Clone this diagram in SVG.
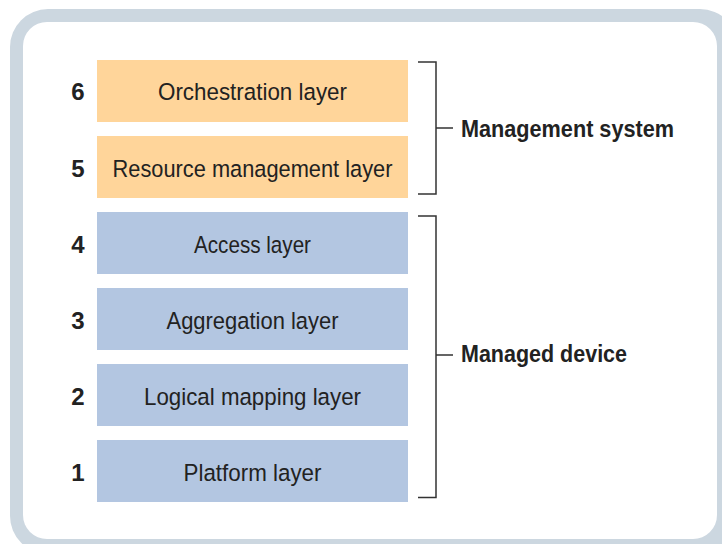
<svg xmlns="http://www.w3.org/2000/svg" width="722" height="544" viewBox="0 0 722 544">
  <style>
    .frame-outer { fill: #CCD7E0; }
    .frame-inner { fill: #FFFFFF; }
    .mgmt { fill: #FFD59A; }
    .dev { fill: #B3C6E1; }
    .label { font-family: "Liberation Sans", Arial, sans-serif; font-size: 24.5px; fill: #222222; text-anchor: middle; }
    .num { font-family: "Liberation Sans", Arial, sans-serif; font-size: 24px; font-weight: bold; fill: #222222; text-anchor: middle; }
    .group-label { font-family: "Liberation Sans", Arial, sans-serif; font-size: 24.5px; font-weight: bold; fill: #222222; }
    .bracket { fill: none; stroke: #333333; stroke-width: 1.5; }
  </style>

  <!-- rounded frame -->
  <rect class="frame-outer" x="10" y="9" width="728" height="545" rx="38"/>
  <rect class="frame-inner" x="23" y="22" width="694" height="517" rx="24"/>

  <!-- layer stack -->
  <g id="layer6">
    <rect class="mgmt" x="97" y="60" width="311" height="62"/>
    <text class="num" x="78" y="100">6</text>
    <text class="label" x="252.5" y="100" textLength="189" lengthAdjust="spacingAndGlyphs">Orchestration layer</text>
  </g>
  <g id="layer5">
    <rect class="mgmt" x="97" y="136" width="311" height="62"/>
    <text class="num" x="78" y="177">5</text>
    <text class="label" x="252.5" y="177" textLength="280" lengthAdjust="spacingAndGlyphs">Resource management layer</text>
  </g>
  <g id="layer4">
    <rect class="dev" x="97" y="212" width="311" height="62"/>
    <text class="num" x="78" y="253">4</text>
    <text class="label" x="252.5" y="253" textLength="117" lengthAdjust="spacingAndGlyphs">Access layer</text>
  </g>
  <g id="layer3">
    <rect class="dev" x="97" y="288" width="311" height="62"/>
    <text class="num" x="78" y="329">3</text>
    <text class="label" x="252.5" y="329" textLength="172" lengthAdjust="spacingAndGlyphs">Aggregation layer</text>
  </g>
  <g id="layer2">
    <rect class="dev" x="97" y="364" width="311" height="62"/>
    <text class="num" x="78" y="405">2</text>
    <text class="label" x="252.5" y="405" textLength="217" lengthAdjust="spacingAndGlyphs">Logical mapping layer</text>
  </g>
  <g id="layer1">
    <rect class="dev" x="97" y="440" width="311" height="62"/>
    <text class="num" x="78" y="481">1</text>
    <text class="label" x="252.5" y="481" textLength="138" lengthAdjust="spacingAndGlyphs">Platform layer</text>
  </g>

  <!-- group brackets -->
  <g id="connectors">
    <path class="bracket" d="M418 62 H436 V194 H418 M436 128 H453"/>
    <path class="bracket" d="M418 216 H436 V497.5 H418 M436 355 H453"/>
  </g>

  <g id="management-system">
    <text class="group-label" x="461" y="137" textLength="213" lengthAdjust="spacingAndGlyphs">Management system</text>
  </g>
  <g id="managed-device">
    <text class="group-label" x="461" y="362" textLength="166" lengthAdjust="spacingAndGlyphs">Managed device</text>
  </g>
</svg>
